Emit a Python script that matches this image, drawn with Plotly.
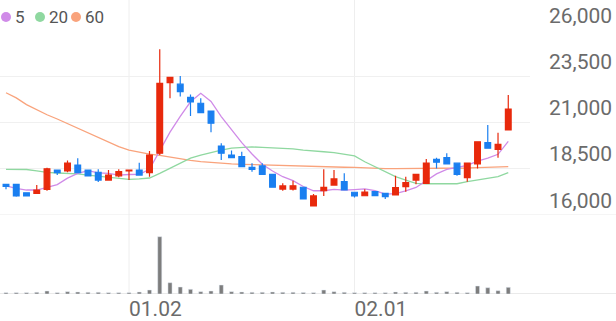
import plotly.graph_objects as go

dates = [
    "2023-12-12", "2023-12-13", "2023-12-14", "2023-12-15", "2023-12-18", "2023-12-19",
    "2023-12-20", "2023-12-21", "2023-12-22", "2023-12-26", "2023-12-27", "2023-12-28",
    "2024-01-02", "2024-01-03", "2024-01-04", "2024-01-05", "2024-01-08", "2024-01-09",
    "2024-01-10", "2024-01-11", "2024-01-12", "2024-01-15", "2024-01-16", "2024-01-17",
    "2024-01-18", "2024-01-19", "2024-01-22", "2024-01-23", "2024-01-24", "2024-01-25",
    "2024-01-26", "2024-01-29", "2024-01-30", "2024-01-31", "2024-02-01", "2024-02-02",
    "2024-02-05", "2024-02-06", "2024-02-07", "2024-02-08", "2024-02-13", "2024-02-14",
    "2024-02-15", "2024-02-16", "2024-02-19", "2024-02-20", "2024-02-21", "2024-02-22",
    "2024-02-23", "2024-02-26",
]
open_ = [17660, 17660, 17200, 17170, 17390, 18430, 18380, 18700, 18430, 18310,
         17890, 18120, 18380, 18430, 18290, 19340, 23150, 23070, 22360, 22040,
         21620, 19730, 19240, 19150, 18580, 18650, 18200, 17400, 17400, 17500,
         16490, 17310, 17620, 17800, 17230, 17040, 17260, 17170, 17080, 17530,
         17890, 17710, 19010, 19100, 18800, 18020, 18760, 19910, 19550, 20600]
high = [17680, 17680, 17210, 17620, 18560, 18460, 18940, 19070, 18460, 18470,
        18430, 18470, 18440, 18830, 19460, 24960, 23460, 23510, 22520, 22310,
        21650, 19880, 19480, 19420, 18800, 18800, 18220, 17710, 17850, 17520,
        17140, 18470, 18430, 18250, 17240, 17390, 17280, 17190, 18120, 18070,
        18220, 19030, 19100, 19340, 18810, 18810, 19990, 20870, 20450, 22490]
low = [17390, 16990, 17000, 17150, 17310, 18160, 18310, 18260, 18080, 17780,
       17870, 18040, 17890, 18140, 18070, 19240, 22310, 22400, 21350, 21500,
       20470, 18970, 19080, 18590, 18340, 18180, 17470, 17310, 17330, 16840,
       16470, 17030, 17600, 17330, 16940, 17030, 17030, 16870, 17060, 17260,
       17660, 17690, 18520, 18740, 18120, 17800, 18520, 19590, 19100, 20570]
close = [17550, 17030, 17030, 17350, 18500, 18290, 18800, 18290, 18110, 17890,
         18160, 18340, 18430, 18160, 19240, 23120, 23440, 22670, 22120, 21530,
         20960, 19340, 19100, 18610, 18470, 18200, 17500, 17570, 17580, 16870,
         17030, 17500, 17950, 17350, 17030, 17240, 17040, 16990, 17480, 17750,
         18200, 18800, 18850, 18760, 18200, 18800, 19960, 19610, 19820, 21730]
ma5 = [17580, 17440, 17350, 17350, 17490, 17640, 17990, 18250, 18400, 18280,
       18250, 18160, 18190, 18200, 18470, 19460, 20480, 21330, 22120, 22580,
       22140, 21320, 20610, 19910, 19300, 18740, 18380, 18070, 17860, 17540,
       17310, 17310, 17390, 17340, 17370, 17410, 17320, 17130, 17160, 17300,
       17490, 17840, 18220, 18470, 18560, 18680, 18910, 19070, 19280, 19980]
ma20 = [18470, 18470, 18460, 18380, 18300, 18270, 18250, 18220, 18160, 18110,
        18030, 17970, 17930, 17950, 18000, 18250, 18520, 18800, 19070, 19240,
        19390, 19510, 19610, 19660, 19680, 19660, 19640, 19610, 19570, 19510,
        19480, 19420, 19370, 19300, 19190, 18880, 18610, 18310, 18070, 17890,
        17710, 17690, 17690, 17690, 17690, 17800, 17890, 17980, 18070, 18290]
ma60 = [22610, 22330, 21970, 21680, 21420, 21190, 20940, 20680, 20430, 20190,
        19930, 19700, 19510, 19390, 19290, 19220, 19120, 19030, 18950, 18880,
        18830, 18790, 18760, 18740, 18720, 18710, 18700, 18680, 18670, 18650,
        18630, 18620, 18600, 18580, 18570, 18540, 18520, 18510, 18510, 18510,
        18520, 18520, 18520, 18530, 18530, 18540, 18560, 18570, 18590, 18610]
volume = [65000, 65000, 65000, 85000, 150000, 65000, 115000, 100000, 85000, 85000,
          65000, 65000, 65000, 100000, 200000, 2865000, 565000, 350000, 235000, 115000,
          150000, 450000, 115000, 100000, 85000, 85000, 100000, 85000, 85000, 75000,
          65000, 200000, 115000, 85000, 65000, 65000, 65000, 65000, 100000, 85000,
          85000, 150000, 85000, 115000, 85000, 65000, 400000, 315000, 165000, 335000]
tick_dates = ["2024-01-02", "2024-02-01"]
tick_text = ["01.02", "02.01"]
price_ticks = [16000, 18500, 21000, 23500, 26000]
ma_names = ["5", "20", "60"]

RED = "#e8290c"
BLUE = "#1a7ff0"
C5 = "#d08be8"
C20 = "#8fd8a0"
C60 = "#f9a37c"
GRAY = "#7d7d7d"
TXT = "#6b6b6b"
FONT = "Roboto"

W, H = 616, 321
PL, PR, PT, PB = 0, 86, 0, 27
pw = W - PL - PR
ph = H - PT - PB

fig = go.Figure()
for vals, col in [(ma60, C60), (ma20, C20), (ma5, C5)]:
    fig.add_trace(go.Scatter(x=dates, y=vals, mode="lines", line=dict(color=col, width=1.3),
                             yaxis="y", showlegend=False, hoverinfo="skip"))
fig.add_trace(go.Candlestick(
    x=dates, open=open_, high=high, low=low, close=close,
    increasing=dict(line=dict(color=RED, width=1.2), fillcolor=RED),
    decreasing=dict(line=dict(color=BLUE, width=1.2), fillcolor=BLUE),
    whiskerwidth=0, yaxis="y3", showlegend=False, hoverinfo="skip"))
fig.add_trace(go.Bar(x=dates, y=volume, yaxis="y2", marker_color=GRAY, width=0.4,
                     showlegend=False, hoverinfo="skip"))

def py(px):
    return (ph - px) / ph

def pxx(px):
    return px / pw

fig.update_layout(
    width=W, height=H,
    margin=dict(l=PL, r=PR, t=PT, b=PB, autoexpand=False),
    paper_bgcolor="white", plot_bgcolor="white",
    font=dict(family=FONT, color=TXT),
    boxgap=0.3, boxgroupgap=0.2,
    xaxis=dict(type="category", range=[-0.585, 51.12], anchor="y2", automargin=False,
               showgrid=False, zeroline=False, showline=False, ticks="",
               tickvals=tick_dates, ticktext=tick_text,
               ticklabelposition="outside right",
               tickfont=dict(size=21, color=TXT, family=FONT),
               rangeslider=dict(visible=False)),
    yaxis=dict(domain=[py(215), py(30)], range=[16000, 26000], side="right", automargin=False,
               tickvals=price_ticks, ticktext=[f"{v:,}" for v in price_ticks],
               ticklabelposition="outside top", ticklabelstandoff=18,
               showgrid=True, gridcolor="#f0f0f0", gridwidth=1,
               zeroline=False, showline=False, ticks="",
               tickfont=dict(size=21, color=TXT, family=FONT)),
    yaxis3=dict(overlaying="y", range=[16000, 26000], visible=False, showgrid=False),
    yaxis2=dict(domain=[0, py(225)], range=[0, 2865000 * 69 / 57.3], visible=False,
                showgrid=False, zeroline=False),
    showlegend=False,
)

shapes = []
for d in tick_dates:
    shapes.append(dict(type="line", xref="x", yref="paper", x0=d, x1=d, y0=0, y1=1,
                       line=dict(color="#eeeeee", width=1), layer="below"))
shapes.append(dict(type="line", xref="paper", yref="y", x0=0, x1=W / pw, y0=16000, y1=16000,
                   line=dict(color="#ebebeb", width=1), layer="below"))
shapes.append(dict(type="line", xref="paper", yref="y2", x0=0, x1=W / pw, y0=0, y1=0,
                   line=dict(color="#e3e3e3", width=1.5), layer="below"))

# legend: coloured dots + labels
dot_cx = [6, 40, 76]
lab_x = [14, 48, 84]
LEG_Y = 17
for cx, lx, c, n in zip(dot_cx, lab_x, [C5, C20, C60], ma_names):
    shapes.append(dict(type="circle", xref="paper", yref="paper",
                       x0=pxx(cx - 5), x1=pxx(cx + 5), y0=py(LEG_Y + 5), y1=py(LEG_Y - 5),
                       fillcolor=c, line=dict(width=0)))
    fig.add_annotation(x=pxx(lx), y=py(LEG_Y), xref="paper", yref="paper",
                       xanchor="left", yanchor="middle", text=n, showarrow=False,
                       borderpad=0, font=dict(size=17, color="#555555", family=FONT))
fig.update_layout(shapes=shapes)

fig.write_html("out.html")
